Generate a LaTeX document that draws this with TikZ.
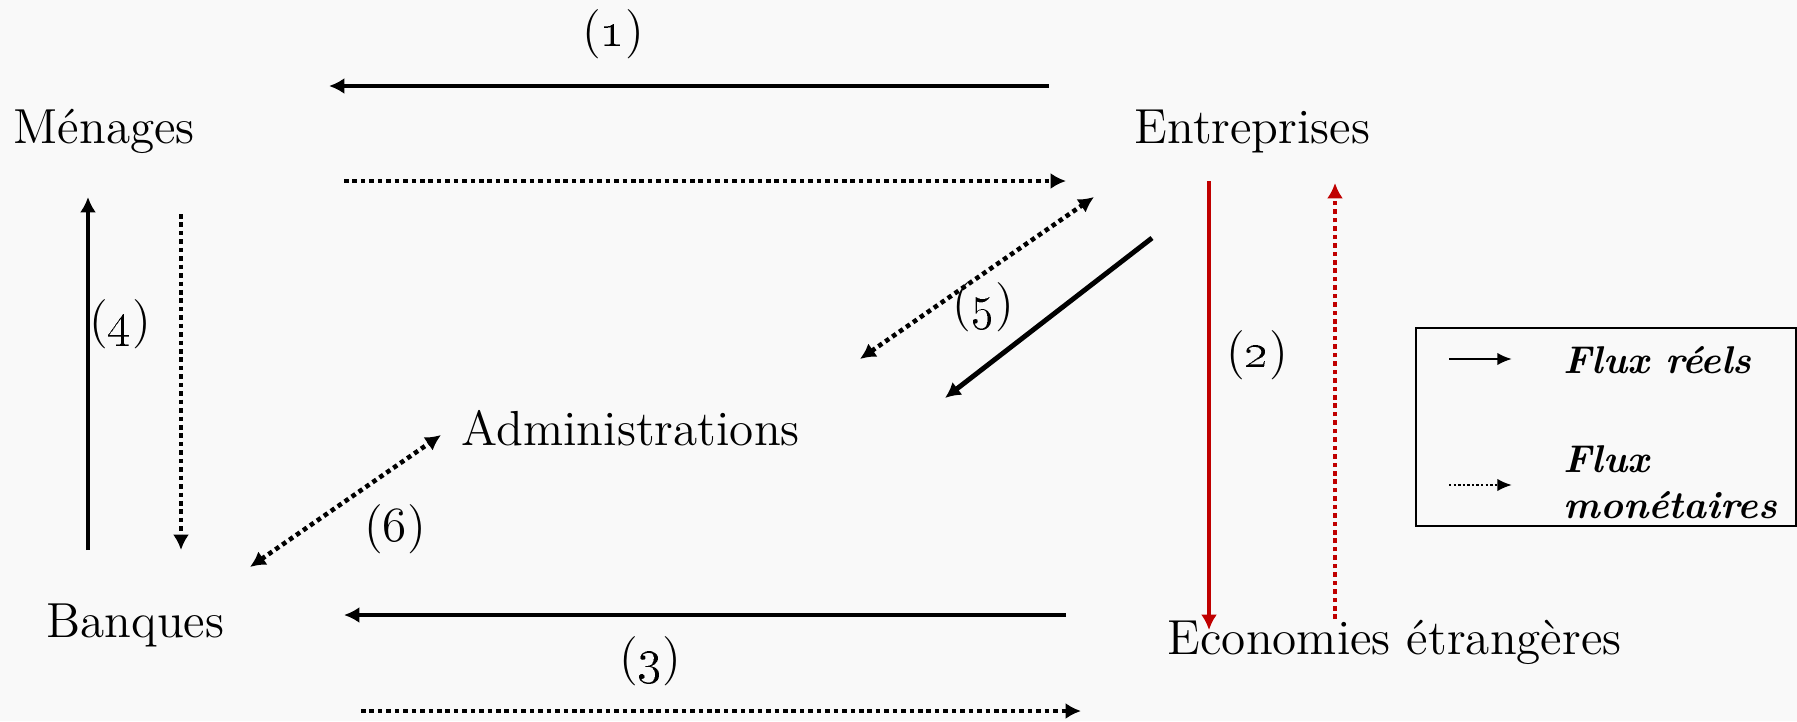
\documentclass[tikz,border=0pt]{standalone}
\usetikzlibrary{arrows.meta}
\definecolor{bg}{RGB}{249,249,249}
\definecolor{dred}{RGB}{192,0,0}
\begin{document}
\begin{tikzpicture}[x=0.01cm,y=-0.01cm,
  lab/.style={inner sep=0,anchor=base west,font=\fontsize{14}{17}\selectfont},
  num/.style={inner sep=0,font=\fontsize{14}{17}\selectfont},
  leg/.style={inner sep=0,anchor=base west,font=\fontsize{11}{13}\selectfont\bfseries\itshape},
  realflow/.style={line width=1.4pt,-{Latex[length=4.4pt,width=4.6pt]}},
  moneyflow/.style={line width=1.3pt,dash pattern=on 1.3pt off 1.1pt,-{Latex[length=4.4pt,width=4.6pt]}},
  moneyboth/.style={line width=1.3pt,dash pattern=on 1.3pt off 1.1pt,{Latex[length=4.4pt,width=4.6pt]}-{Latex[length=4.4pt,width=4.6pt]}},
  legreal/.style={line width=0.7pt,-{Latex[length=4.2pt,width=3.6pt]}},
  legmoney/.style={line width=0.7pt,dash pattern=on 0.7pt off 0.6pt,-{Latex[length=4.2pt,width=3.6pt]}}]
\fill[bg] (0,0) rectangle (1797,721);
\useasboundingbox (0,0) rectangle (1797,721);

% sector labels
\node[lab] (men) at (13,143) {Ménages};
\node[lab] (ent) at (1134,143) {Entreprises};
\node[lab] (adm) at (461,445) {Administrations};
\node[lab] (ban) at (46,637) {Banques};
\node[lab] (eco) at (1167,654) {Economies étrangères};

% arrow end points
\coordinate (a1s) at (1049,86);  \coordinate (a1e) at (329,86);
\coordinate (m1s) at (344,181);  \coordinate (m1e) at (1066,181);
\coordinate (r2s) at (1209,181); \coordinate (r2e) at (1209,630);
\coordinate (m2s) at (1335,619); \coordinate (m2e) at (1335,183);
\coordinate (m5s) at (860,359);  \coordinate (m5e) at (1094,197);
\coordinate (a5s) at (1152,238); \coordinate (a5e) at (945,398);
\coordinate (a4s) at (88,550);   \coordinate (a4e) at (88,197);
\coordinate (m4s) at (181,214);  \coordinate (m4e) at (181,550);
\coordinate (m6s) at (250,567);  \coordinate (m6e) at (441,435);
\coordinate (a3s) at (1066,615); \coordinate (a3e) at (344,615);
\coordinate (m3s) at (361,711);  \coordinate (m3e) at (1081,711);

% flows
\draw[realflow] (a1s) -- (a1e);
\draw[moneyflow] (m1s) -- (m1e);
\draw[realflow,dred] (r2s) -- (r2e);
\draw[moneyflow,dred] (m2s) -- (m2e);
\draw[moneyboth] (m5s) -- (m5e);
\draw[realflow] (a5s) -- (a5e);
\draw[realflow] (a4s) -- (a4e);
\draw[moneyflow] (m4s) -- (m4e);
\draw[moneyboth] (m6s) -- (m6e);
\draw[realflow] (a3s) -- (a3e);
\draw[moneyflow] (m3s) -- (m3e);

% numbers
\node[num] (n1) at (613,34) {(\oldstylenums{1})};
\node[num] (n2) at (1257,355) {(\oldstylenums{2})};
\node[num] (n3) at (650,661) {(\oldstylenums{3})};
\node[num] (n4) at (120,324) {(\oldstylenums{4})};
\node[num] (n5) at (983,307) {(\oldstylenums{5})};
\node[num] (n6) at (395,529) {(6)};

% legend
\draw[line width=0.8pt] (1416,328) rectangle (1796,526);
\coordinate (l1s) at (1449,359); \coordinate (l1e) at (1512,359);
\coordinate (l2s) at (1449,485); \coordinate (l2e) at (1512,485);
\draw[legreal] (l1s) -- (l1e);
\draw[legmoney] (l2s) -- (l2e);
\node[leg] (lt1) at (1563,373) {Flux réels};
\node[leg] (lt2) at (1563,472) {Flux};
\node[leg] (lt3) at (1563,518) {monétaires};
\end{tikzpicture}
\end{document}
